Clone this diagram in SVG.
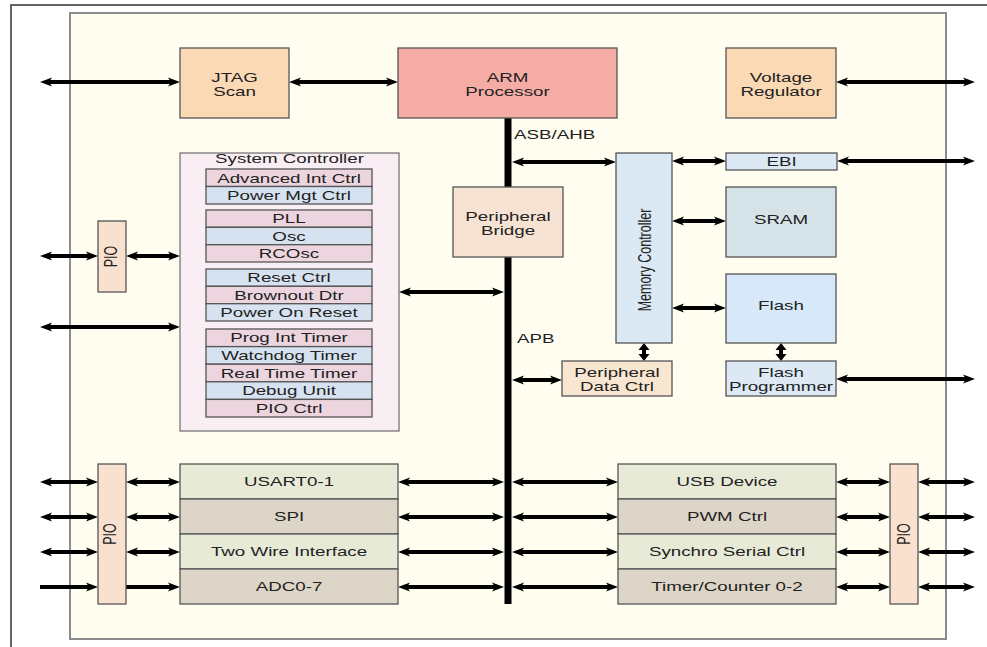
<svg xmlns="http://www.w3.org/2000/svg" width="987" height="647" viewBox="0 0 987 647">
<style>
.t{font-family:"Liberation Sans",Arial,sans-serif;font-size:12.5px;fill:#222;text-anchor:middle}
.ts{font-family:"Liberation Sans",Arial,sans-serif;font-size:12.5px;fill:#222;text-anchor:start}
.box{stroke:#555;stroke-width:1.3}
.c{stroke:#000;stroke-width:4;fill:none;marker-start:url(#ah);marker-end:url(#ah)}
.c1{stroke:#000;stroke-width:4;fill:none;marker-end:url(#ah)}
.pk{fill:#ecd5de}
.bl{fill:#d6e2f0}
.gr{fill:#e8ead8}
.bg{fill:#ddd6c8}
.pio{fill:#f9e1cf}
</style>
<defs>
<marker id="ah" viewBox="-3 -5 12 10" refX="0" refY="0" markerWidth="12" markerHeight="10" markerUnits="userSpaceOnUse" orient="auto-start-reverse">
<path d="M-3,-4.5 L9,0 L-3,4.5 L0,0 z" fill="#000"/>
</marker>
</defs>
<rect width="987" height="647" fill="#fff"/>
<path d="M11,647 V5 H987" fill="none" stroke="#333" stroke-width="1.5"/>
<rect id="chip" x="70" y="13" width="876" height="626" fill="#fefdf0" stroke="#8c8c8c" stroke-width="2"/>

<g id="connectors">
<line x1="508" y1="118" x2="508" y2="604" stroke="#000" stroke-width="7"/>
<line class="c" x1="49" y1="82" x2="171" y2="82"/>
<line class="c" x1="298" y1="82" x2="389" y2="82"/>
<line class="c" x1="845" y1="82" x2="966" y2="82"/>
<line class="c" x1="521" y1="162" x2="607" y2="162"/>
<line class="c" x1="681" y1="161" x2="717" y2="161"/>
<line class="c" x1="846" y1="161" x2="966" y2="161"/>
<line class="c" x1="681" y1="221" x2="717" y2="221"/>
<line class="c" x1="681" y1="308" x2="717" y2="308"/>
<path d="M781,343 L786.5,350 L783,350 L783,354 L786.5,354 L781,361 L775.5,354 L779,354 L779,350 L775.5,350 z" fill="#000"/>
<path d="M644,343 L649.5,350 L646,350 L646,354 L649.5,354 L644,361 L638.5,354 L642,354 L642,350 L638.5,350 z" fill="#000"/>
<line class="c" x1="521" y1="380" x2="553" y2="380"/>
<line class="c" x1="845" y1="379" x2="966" y2="379"/>
<line class="c" x1="408" y1="292" x2="495" y2="292"/>
<line class="c" x1="49" y1="256" x2="89" y2="256"/>
<line class="c" x1="135" y1="256" x2="171" y2="256"/>
<line class="c" x1="49" y1="327" x2="171" y2="327"/>
<!-- bottom rows -->
<line class="c" x1="49" y1="482" x2="89" y2="482"/>
<line class="c" x1="49" y1="517" x2="89" y2="517"/>
<line class="c" x1="49" y1="552" x2="89" y2="552"/>
<line class="c1" x1="40" y1="587" x2="89" y2="587"/>
<line class="c" x1="135" y1="482" x2="171" y2="482"/>
<line class="c" x1="135" y1="517" x2="171" y2="517"/>
<line class="c" x1="135" y1="552" x2="171" y2="552"/>
<line class="c1" x1="126" y1="587" x2="171" y2="587"/>
<line class="c" x1="407" y1="482" x2="495" y2="482"/>
<line class="c" x1="407" y1="517" x2="495" y2="517"/>
<line class="c" x1="407" y1="552" x2="495" y2="552"/>
<line class="c" x1="407" y1="587" x2="495" y2="587"/>
<line class="c" x1="521" y1="482" x2="609" y2="482"/>
<line class="c" x1="521" y1="517" x2="609" y2="517"/>
<line class="c" x1="521" y1="552" x2="609" y2="552"/>
<line class="c" x1="521" y1="587" x2="609" y2="587"/>
<line class="c" x1="845" y1="482" x2="881" y2="482"/>
<line class="c" x1="845" y1="517" x2="881" y2="517"/>
<line class="c" x1="845" y1="552" x2="881" y2="552"/>
<line class="c" x1="845" y1="587" x2="881" y2="587"/>
<line class="c" x1="927" y1="482" x2="966" y2="482"/>
<line class="c" x1="927" y1="517" x2="966" y2="517"/>
<line class="c" x1="927" y1="552" x2="966" y2="552"/>
<line class="c" x1="927" y1="587" x2="966" y2="587"/>
</g>

<text class="ts" transform="translate(514,139) scale(1.5,1)">ASB/AHB</text>
<text class="ts" transform="translate(517,343) scale(1.5,1)">APB</text>

<g id="jtag">
<rect class="box" x="180" y="48" width="109" height="70" fill="#fad9b4"/>
<text class="t" transform="translate(234.5,82) scale(1.5,1)">JTAG</text>
<text class="t" transform="translate(234.5,96) scale(1.5,1)">Scan</text>
</g>
<g id="arm">
<rect class="box" x="398" y="48" width="219" height="70" fill="#f4aca4"/>
<text class="t" transform="translate(507.5,82) scale(1.5,1)">ARM</text>
<text class="t" transform="translate(507.5,96) scale(1.5,1)">Processor</text>
</g>
<g id="vreg">
<rect class="box" x="726" y="48" width="110" height="70" fill="#fad9b4"/>
<text class="t" transform="translate(781,82) scale(1.5,1)">Voltage</text>
<text class="t" transform="translate(781,96) scale(1.5,1)">Regulator</text>
</g>
<g id="pbridge">
<rect class="box" x="453" y="187" width="110" height="70" fill="#f7e3d3"/>
<text class="t" transform="translate(508,221) scale(1.5,1)">Peripheral</text>
<text class="t" transform="translate(508,235) scale(1.5,1)">Bridge</text>
</g>
<g id="memctrl">
<rect class="box" x="616" y="153" width="56" height="190" fill="#dbe9f5"/>
<text class="t" transform="translate(651,260) scale(1.5,1) rotate(-90)">Memory Controller</text>
</g>
<g id="ebi">
<rect class="box" x="726" y="153" width="111" height="17" fill="#dce9f5"/>
<text class="t" transform="translate(781.5,166) scale(1.5,1)">EBI</text>
</g>
<g id="sram">
<rect class="box" x="726" y="187" width="110" height="70" fill="#d5e3e8"/>
<text class="t" transform="translate(781,224) scale(1.5,1)">SRAM</text>
</g>
<g id="flash">
<rect class="box" x="726" y="274" width="110" height="69" fill="#d7e8f8"/>
<text class="t" transform="translate(781,310) scale(1.5,1)">Flash</text>
</g>
<g id="flashprog">
<rect class="box" x="726" y="361" width="110" height="35" fill="#dce9f5"/>
<text class="t" transform="translate(781,377) scale(1.5,1)">Flash</text>
<text class="t" transform="translate(781,391) scale(1.5,1)">Programmer</text>
</g>
<g id="pdc">
<rect class="box" x="562" y="361" width="110" height="35" fill="#f9e6d0"/>
<text class="t" transform="translate(617,377) scale(1.5,1)">Peripheral</text>
<text class="t" transform="translate(617,391) scale(1.5,1)">Data Ctrl</text>
</g>

<g id="sysctrl">
<rect x="180" y="153" width="219" height="278" fill="#f9eef3" stroke="#777" stroke-width="1.3"/>
<text class="t" transform="translate(289.5,163) scale(1.5,1)">System Controller</text>
<rect class="box pk" x="206" y="169" width="166" height="17.5"/>
<rect class="box bl" x="206" y="186.5" width="166" height="17.5"/>
<rect class="box pk" x="206" y="210" width="166" height="17.3"/>
<rect class="box bl" x="206" y="227.3" width="166" height="17.4"/>
<rect class="box pk" x="206" y="244.7" width="166" height="17.3"/>
<rect class="box bl" x="206" y="269" width="166" height="17.3"/>
<rect class="box pk" x="206" y="286.3" width="166" height="17.4"/>
<rect class="box bl" x="206" y="303.7" width="166" height="17.3"/>
<rect class="box pk" x="206" y="329" width="166" height="17.6"/>
<rect class="box bl" x="206" y="346.6" width="166" height="17.6"/>
<rect class="box pk" x="206" y="364.2" width="166" height="17.6"/>
<rect class="box bl" x="206" y="381.8" width="166" height="17.6"/>
<rect class="box pk" x="206" y="399.4" width="166" height="17.6"/>
<text class="t" transform="translate(289,182.5) scale(1.5,1)">Advanced Int Ctrl</text>
<text class="t" transform="translate(289,200) scale(1.5,1)">Power Mgt Ctrl</text>
<text class="t" transform="translate(289,223) scale(1.5,1)">PLL</text>
<text class="t" transform="translate(289,240.5) scale(1.5,1)">Osc</text>
<text class="t" transform="translate(289,258) scale(1.5,1)">RCOsc</text>
<text class="t" transform="translate(289,282) scale(1.5,1)">Reset Ctrl</text>
<text class="t" transform="translate(289,299.5) scale(1.5,1)">Brownout Dtr</text>
<text class="t" transform="translate(289,317) scale(1.5,1)">Power On Reset</text>
<text class="t" transform="translate(289,342.3) scale(1.5,1)">Prog Int Timer</text>
<text class="t" transform="translate(289,359.9) scale(1.5,1)">Watchdog Timer</text>
<text class="t" transform="translate(289,377.5) scale(1.5,1)">Real Time Timer</text>
<text class="t" transform="translate(289,395.1) scale(1.5,1)">Debug Unit</text>
<text class="t" transform="translate(289,412.7) scale(1.5,1)">PIO Ctrl</text>
</g>

<g id="pio-top">
<rect class="box pio" x="98" y="221" width="28" height="71"/>
<text class="t" transform="translate(117,256.5) scale(1.5,1) rotate(-90)">PIO</text>
</g>
<g id="pio-left">
<rect class="box pio" x="98" y="464" width="28" height="140"/>
<text class="t" transform="translate(116,534) scale(1.5,1) rotate(-90)">PIO</text>
</g>
<g id="pio-right">
<rect class="box pio" x="890" y="464" width="28" height="140"/>
<text class="t" transform="translate(910,534) scale(1.5,1) rotate(-90)">PIO</text>
</g>

<g id="left-periph">
<rect class="box gr" x="180" y="464" width="218" height="35"/>
<rect class="box bg" x="180" y="499" width="218" height="35"/>
<rect class="box gr" x="180" y="534" width="218" height="35"/>
<rect class="box bg" x="180" y="569" width="218" height="35"/>
<text class="t" transform="translate(289,486) scale(1.5,1)">USART0-1</text>
<text class="t" transform="translate(289,521) scale(1.5,1)">SPI</text>
<text class="t" transform="translate(289,556) scale(1.5,1)">Two Wire Interface</text>
<text class="t" transform="translate(289,591) scale(1.5,1)">ADC0-7</text>
</g>
<g id="right-periph">
<rect class="box gr" x="618" y="464" width="218" height="35"/>
<rect class="box bg" x="618" y="499" width="218" height="35"/>
<rect class="box gr" x="618" y="534" width="218" height="35"/>
<rect class="box bg" x="618" y="569" width="218" height="35"/>
<text class="t" transform="translate(727,486) scale(1.5,1)">USB Device</text>
<text class="t" transform="translate(727,521) scale(1.5,1)">PWM Ctrl</text>
<text class="t" transform="translate(727,556) scale(1.5,1)">Synchro Serial Ctrl</text>
<text class="t" transform="translate(727,591) scale(1.5,1)">Timer/Counter 0-2</text>
</g>
</svg>
